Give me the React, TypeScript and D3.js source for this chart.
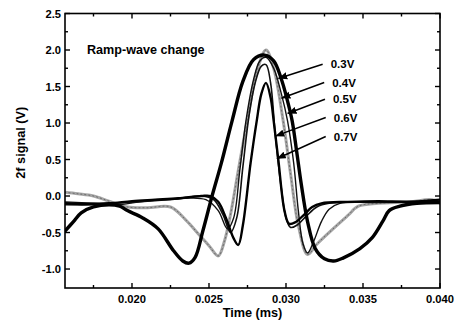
import * as d3 from "d3";

// readings: [time (ms), 2f signal (V)]
const wave03: [number, number][] = [
  [0.01565, -0.48], [0.0162, -0.35], [0.0167, -0.23], [0.0175, -0.15], [0.0185, -0.12],
  [0.0192, -0.14], [0.0197, -0.2], [0.0207, -0.3], [0.0217, -0.45], [0.0227, -0.75],
  [0.0233, -0.89], [0.0237, -0.92], [0.0241, -0.84], [0.0246, -0.48], [0.0252, 0.0],
  [0.0258, 0.45], [0.0265, 1.03], [0.0272, 1.57], [0.0279, 1.87], [0.0286, 1.93],
  [0.0292, 1.85], [0.0297, 1.6], [0.0301, 1.3], [0.0304, 1.03], [0.0307, 0.6],
  [0.031, 0.15], [0.0314, -0.35], [0.0319, -0.72], [0.0325, -0.86], [0.0331, -0.89],
  [0.0337, -0.85], [0.0348, -0.72], [0.0356, -0.57], [0.0363, -0.34], [0.0367, -0.2],
  [0.0374, -0.14], [0.0385, -0.1], [0.04, -0.09],
];

const wave04: [number, number][] = [
  [0.01565, 0.05], [0.0165, 0.03], [0.0175, 0.0], [0.0185, -0.07], [0.0197, -0.15],
  [0.021, -0.16], [0.0225, -0.15], [0.0235, -0.33], [0.0244, -0.54], [0.025, -0.68],
  [0.0256, -0.82], [0.026, -0.62], [0.0264, -0.25], [0.0269, 0.35], [0.0275, 1.05],
  [0.0281, 1.7], [0.0287, 2.0], [0.0292, 1.75], [0.0298, 1.05], [0.0303, 0.3],
  [0.0308, -0.4], [0.0314, -0.8], [0.032, -0.66], [0.033, -0.46], [0.034, -0.27],
  [0.0347, -0.14], [0.036, -0.1], [0.038, -0.08], [0.0395, -0.05], [0.04, -0.1],
];

const wave05: [number, number][] = [
  [0.01565, -0.08], [0.0175, -0.1], [0.019, -0.12], [0.0205, -0.08], [0.022, -0.05],
  [0.0235, -0.03], [0.0248, -0.05], [0.0256, -0.2], [0.0262, -0.45], [0.0266, -0.3],
  [0.027, 0.35], [0.0274, 1.03], [0.0279, 1.6], [0.0283, 1.85], [0.0287, 1.9],
  [0.0292, 1.75], [0.0297, 1.4], [0.0301, 1.03], [0.0305, 0.45], [0.0308, -0.2],
  [0.0311, -0.65], [0.0314, -0.78], [0.0318, -0.62], [0.0323, -0.35], [0.0328, -0.18],
  [0.0335, -0.1], [0.036, -0.09], [0.04, -0.08],
];

const wave06: [number, number][] = [
  [0.01565, -0.12], [0.0175, -0.12], [0.019, -0.1], [0.021, -0.07], [0.023, -0.04],
  [0.0245, 0.0], [0.0253, -0.05], [0.0259, -0.25], [0.0264, -0.5], [0.0268, -0.3],
  [0.0272, 0.4], [0.0276, 1.1], [0.028, 1.55], [0.0284, 1.78], [0.0287, 1.8],
  [0.029, 1.55], [0.0293, 0.85], [0.0297, 0.1], [0.03, -0.3], [0.0303, -0.43],
  [0.0307, -0.4], [0.0313, -0.28], [0.032, -0.15], [0.0328, -0.1], [0.036, -0.08],
  [0.04, -0.07],
];

const wave07: [number, number][] = [
  [0.01565, -0.1], [0.017, -0.11], [0.0185, -0.1], [0.02, -0.07], [0.0215, -0.05],
  [0.023, -0.03], [0.0245, 0.0], [0.0251, 0.0], [0.0256, -0.08], [0.0261, -0.3],
  [0.0266, -0.58], [0.0269, -0.67], [0.0272, -0.4], [0.0277, 0.45], [0.0281, 1.03],
  [0.0284, 1.4], [0.0287, 1.55], [0.029, 1.35], [0.0292, 1.03], [0.0295, 0.5],
  [0.0299, -0.2], [0.0302, -0.38], [0.0306, -0.36], [0.0312, -0.25], [0.0317, -0.15],
  [0.0323, -0.1], [0.034, -0.08], [0.036, -0.07], [0.038, -0.08], [0.04, -0.05],
];

const labels = ["0.3V", "0.4V", "0.5V", "0.6V", "0.7V"];
// where each arrow touches its curve, and where its label sits
const arrowTips: [number, number][] = [
  [0.0295, 1.61], [0.0297, 1.34], [0.0301, 1.13], [0.0293, 0.82], [0.0294, 0.51],
];
const labelSpots: [number, number][] = [
  [0.0329, 1.75], [0.0330, 1.5], [0.03305, 1.27], [0.0331, 1.02], [0.0331, 0.76],
];

const xTicks = [0.02, 0.025, 0.03, 0.035, 0.04];
const xMinor = [0.0175, 0.0225, 0.0275, 0.0325, 0.0375];
const yTicks = [-1.0, -0.5, 0.0, 0.5, 1.0, 1.5, 2.0, 2.5];
const yMinor = [-0.75, -0.25, 0.25, 0.75, 1.25, 1.75, 2.25];

const width = 462;
const height = 325;
const margin = { top: 13.5, right: 22, bottom: 37, left: 65 };
const font = "'Liberation Sans', Arial, sans-serif";

const x = d3.scaleLinear().domain([0.01565, 0.04]).range([margin.left, width - margin.right]);
const y = d3.scaleLinear().domain([-1.26, 2.5]).range([height - margin.bottom, margin.top]);

const line = d3
  .line<[number, number]>()
  .x((d) => x(d[0]))
  .y((d) => y(d[1]))
  .curve(d3.curveCatmullRom.alpha(0.5));

const App = () => {
  const x0 = x.range()[0];
  const x1 = x.range()[1];
  const y0 = y.range()[0];
  const y1 = y.range()[1];

  return (
    <svg
      width={width}
      height={height}
      style={{ position: "absolute", left: 0, top: 0, background: "#fff" }}
      fontFamily={font}
    >
      <defs>
        <marker id="head" viewBox="0 0 10 10" refX="10" refY="5" markerWidth="6" markerHeight="6" orient="auto">
          <path d="M0,1 L10,5 L0,9 Z" fill="#000" />
        </marker>
        <clipPath id="plot">
          <rect x={x0} y={y1} width={x1 - x0} height={y0 - y1} />
        </clipPath>
      </defs>

      <g clipPath="url(#plot)" fill="none" strokeLinejoin="round" strokeLinecap="round">
        <path d={line(wave04) ?? ""} stroke="#a6a6a6" strokeWidth={3} />
        <path d={line(wave04) ?? ""} stroke="#555" strokeWidth={0.8} strokeDasharray="1,3" />
        <path d={line(wave05) ?? ""} stroke="#111" strokeWidth={1.4} />
        <path d={line(wave06) ?? ""} stroke="#111" strokeWidth={1.6} />
        <path d={line(wave07) ?? ""} stroke="#000" strokeWidth={2.4} />
        <path d={line(wave03) ?? ""} stroke="#000" strokeWidth={3.4} />
      </g>

      {/* frame */}
      <rect x={x0} y={y1} width={x1 - x0} height={y0 - y1} fill="none" stroke="#000" strokeWidth={1.6} />

      {/* x ticks, bottom and top, pointing inward */}
      {xTicks.map((t) => (
        <g key={"x" + t}>
          <line x1={x(t)} x2={x(t)} y1={y0} y2={y0 - 5} stroke="#000" strokeWidth={1.4} />
          <line x1={x(t)} x2={x(t)} y1={y1} y2={y1 + 5} stroke="#000" strokeWidth={1.4} />
          <text x={x(t)} y={y0 + 15} textAnchor="middle" fontSize={11.2} fontWeight="bold">
            {t.toFixed(3)}
          </text>
        </g>
      ))}
      {xMinor.map((t) => (
        <g key={"xm" + t}>
          <line x1={x(t)} x2={x(t)} y1={y0} y2={y0 - 3} stroke="#000" strokeWidth={1.4} />
          <line x1={x(t)} x2={x(t)} y1={y1} y2={y1 + 3} stroke="#000" strokeWidth={1.4} />
        </g>
      ))}

      {/* y ticks, left and right */}
      {yTicks.map((v) => (
        <g key={"y" + v}>
          <line x1={x0} x2={x0 + 5} y1={y(v)} y2={y(v)} stroke="#000" strokeWidth={1.4} />
          <line x1={x1} x2={x1 - 5} y1={y(v)} y2={y(v)} stroke="#000" strokeWidth={1.4} />
          <text x={x0 - 4} y={y(v) + 4} textAnchor="end" fontSize={11.2} fontWeight="bold">
            {v.toFixed(1)}
          </text>
        </g>
      ))}
      {yMinor.map((v) => (
        <g key={"ym" + v}>
          <line x1={x0} x2={x0 + 3} y1={y(v)} y2={y(v)} stroke="#000" strokeWidth={1.4} />
          <line x1={x1} x2={x1 - 3} y1={y(v)} y2={y(v)} stroke="#000" strokeWidth={1.4} />
        </g>
      ))}

      {/* axis titles */}
      <text x={(x0 + x1) / 2} y={317} textAnchor="middle" fontSize={12.7} fontWeight="bold">
        Time (ms)
      </text>
      <text
        transform={`translate(25,${(y0 + y1) / 2 - 8}) rotate(-90)`}
        textAnchor="middle"
        fontSize={12.7}
        fontWeight="bold"
      >
        2f signal (V)
      </text>

      <text x={87} y={54} fontSize={12.6} fontWeight="bold">
        Ramp-wave change
      </text>

      {/* labelled arrows */}
      {labels.map((lab, i) => {
        const [tx, ty] = arrowTips[i];
        const [lx, ly] = labelSpots[i];
        return (
          <g key={lab}>
            <line
              x1={x(lx) - 8}
              y1={y(ly) - 4}
              x2={x(tx)}
              y2={y(ty)}
              stroke="#000"
              strokeWidth={1.5}
              markerEnd="url(#head)"
            />
            <text x={x(lx)} y={y(ly)} fontSize={11.5} fontWeight="bold">
              {lab}
            </text>
          </g>
        );
      })}
    </svg>
  );
};

export default App;
